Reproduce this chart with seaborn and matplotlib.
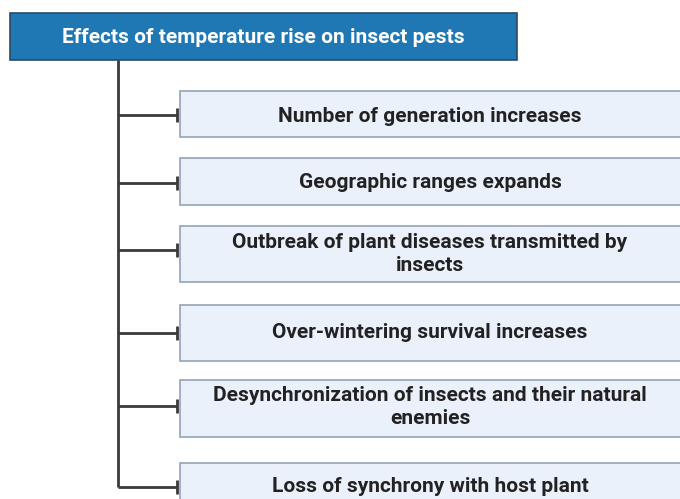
import seaborn as sns
import matplotlib.pyplot as plt
from matplotlib.patches import Rectangle

# diagram content
title = 'Effects of temperature rise on insect pests'
effects = [
    'Number of generation increases',
    'Geographic ranges expands',
    'Outbreak of plant diseases transmitted by\ninsects',
    'Over-wintering survival increases',
    'Desynchronization of insects and their natural\nenemies',
    'Loss of synchrony with host plant',
]

# layout in pixels (top, bottom of each box, y of connector, y of text)
box_top = [91, 158, 226, 305, 380, 463]
box_bottom = [137, 205, 282, 361, 437, 520]
link_y = [115, 183, 250, 333, 406, 487]
text_y = [116, 183, 254, 333, 407, 487]

sns.set_style('white')
plt.rcParams['font.family'] = ['Roboto', 'DejaVu Sans']

fig = plt.figure(figsize=(6.8, 4.99), dpi=100)
ax = fig.add_axes([0, 0, 1, 1])
ax.set_xlim(0, 680)
ax.set_ylim(499, 0)
ax.axis('off')

# header
ax.add_patch(Rectangle((10, 13), 507, 47, facecolor='#1f78b4', edgecolor='#2b4a63', lw=1.2))
ax.text(263, 37, title, color='white', fontsize=15, fontweight='bold',
        ha='center', va='center')

# trunk line
line_col = '#3a3a3a'
ax.plot([118, 118], [60, link_y[-1]], color=line_col, lw=2, solid_capstyle='butt')

for label, top, bot, y, ty in zip(effects, box_top, box_bottom, link_y, text_y):
    ax.add_patch(Rectangle((180, top), 520, bot - top, facecolor='#eaf1fb',
                           edgecolor='#93a3b5', lw=1.2))
    ax.plot([118, 177], [y, y], color=line_col, lw=2, solid_capstyle='butt')
    ax.plot([177, 177], [y - 7, y + 7], color=line_col, lw=2, solid_capstyle='butt')
    ax.text(430, ty, label, color='#222222', fontsize=15, fontweight='bold',
            ha='center', va='center', linespacing=1.25)

fig.savefig('out.png', dpi=100)
